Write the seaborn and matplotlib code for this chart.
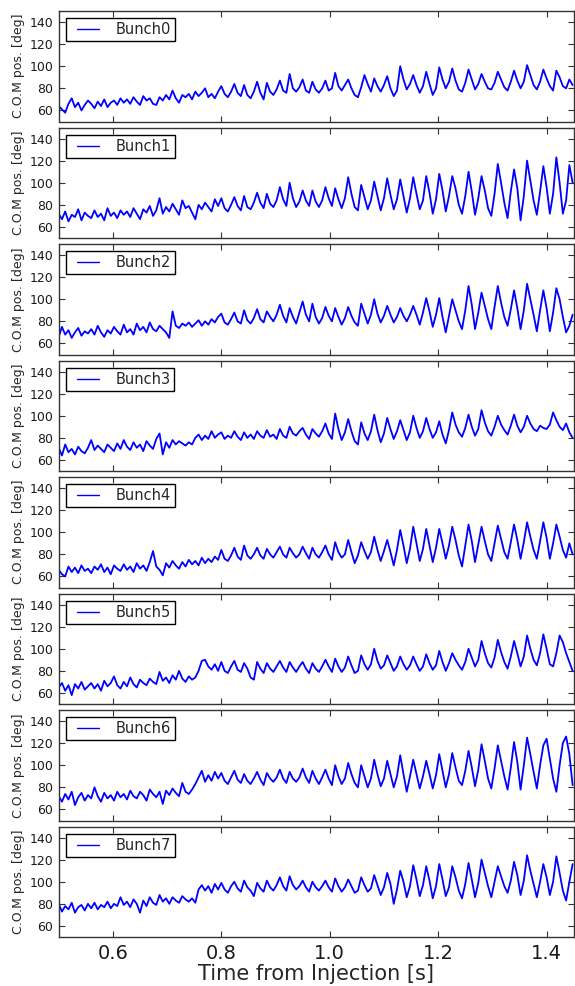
import numpy as np
import pandas as pd
import matplotlib
matplotlib.use("Agg")
import matplotlib.pyplot as plt
from matplotlib.lines import Line2D
from matplotlib.legend_handler import HandlerLine2D
import seaborn as sns

# ---------------- data ----------------
t_start = 0.5      # s, first sample
t_step = 0.006     # s, sample spacing

bunch0 = [64, 61, 58, 66, 71, 63, 67, 60, 65, 69,
          66, 62, 68, 64, 70, 63, 67, 69, 65, 71,
          67, 70, 66, 72, 68, 65, 73, 69, 71, 66,
          65, 72, 69, 74, 70, 78, 71, 67, 74, 72,
          75, 70, 77, 73, 76, 80, 72, 75, 71, 77,
          82, 75, 72, 77, 84, 76, 73, 83, 74, 71,
          77, 86, 76, 70, 85, 77, 74, 79, 87, 78,
          76, 93, 80, 77, 81, 88, 78, 76, 86, 79,
          76, 80, 87, 78, 80, 94, 82, 78, 83, 88,
          80, 74, 72, 81, 92, 84, 77, 89, 82, 77,
          83, 91, 80, 73, 78, 100, 88, 79, 84, 92,
          83, 76, 82, 95, 84, 74, 80, 99, 88, 80,
          86, 98, 87, 79, 77, 85, 97, 88, 79, 84,
          93, 86, 80, 79, 85, 95, 88, 81, 78, 86,
          96, 87, 80, 86, 101, 92, 83, 79, 86, 97,
          89, 82, 78, 96, 90, 82, 80, 88, 83]

bunch1 = [72, 67, 74, 65, 71, 69, 76, 66, 73, 70,
          68, 75, 69, 72, 66, 77, 70, 73, 68, 75,
          71, 74, 69, 77, 72, 67, 76, 73, 79, 70,
          75, 86, 72, 78, 74, 81, 76, 71, 84, 77,
          79, 73, 67, 80, 76, 82, 78, 74, 85, 79,
          86, 77, 74, 80, 87, 79, 75, 88, 78, 76,
          82, 91, 82, 77, 90, 81, 78, 84, 96, 85,
          79, 100, 86, 78, 83, 93, 84, 79, 93, 83,
          78, 84, 96, 86, 79, 95, 85, 77, 86, 105,
          90, 78, 75, 98, 87, 76, 84, 101, 88, 75,
          86, 104, 89, 76, 85, 103, 88, 73, 86, 105,
          90, 76, 84, 106, 91, 72, 85, 108, 93, 74,
          88, 106, 95, 80, 72, 88, 110, 92, 71, 86,
          106, 93, 77, 70, 90, 117, 100, 82, 68, 92,
          112, 95, 66, 88, 120, 102, 84, 71, 92, 115,
          96, 72, 90, 123, 100, 72, 84, 116, 100]

bunch2 = [66, 75, 68, 72, 65, 70, 74, 67, 71, 69,
          73, 68, 76, 70, 66, 72, 69, 75, 71, 68,
          77, 70, 73, 68, 78, 72, 75, 70, 79, 73,
          71, 76, 73, 70, 65, 89, 76, 74, 78, 76,
          79, 75, 78, 81, 76, 80, 77, 82, 79, 84,
          87, 79, 77, 82, 88, 80, 78, 90, 81, 78,
          83, 91, 82, 79, 89, 84, 80, 86, 95, 85,
          79, 92, 84, 78, 88, 98, 86, 80, 96, 84,
          78, 83, 93, 85, 80, 92, 84, 77, 83, 93,
          85, 79, 76, 96, 87, 78, 86, 100, 87, 79,
          85, 94, 86, 79, 84, 92, 85, 80, 86, 94,
          86, 77, 88, 101, 89, 75, 86, 101, 84, 70,
          85, 100, 90, 80, 73, 90, 112, 95, 73, 88,
          106, 94, 82, 73, 93, 112, 97, 84, 76, 91,
          108, 92, 73, 90, 114, 100, 86, 71, 90, 108,
          92, 71, 88, 110, 100, 84, 70, 76, 86]

bunch3 = [71, 64, 74, 67, 70, 65, 72, 68, 66, 71,
          78, 69, 73, 70, 67, 74, 71, 68, 75, 70,
          78, 72, 69, 76, 71, 74, 68, 77, 73, 70,
          79, 84, 65, 76, 71, 78, 74, 77, 75, 73,
          76, 74, 80, 83, 78, 82, 79, 86, 80, 83,
          85, 79, 82, 80, 86, 81, 78, 85, 80, 83,
          79, 86, 82, 80, 87, 81, 83, 79, 88, 82,
          80, 90, 84, 82, 86, 89, 83, 79, 88, 84,
          81, 86, 93, 84, 79, 102, 88, 78, 85, 97,
          86, 77, 74, 94, 84, 78, 86, 101, 87, 76,
          84, 98, 88, 79, 86, 96, 87, 78, 85, 100,
          89, 80, 86, 98, 88, 80, 85, 95, 83, 75,
          87, 103, 92, 85, 81, 89, 101, 90, 82, 88,
          105, 94, 86, 82, 90, 100, 92, 87, 83, 91,
          101, 91, 85, 90, 100, 93, 88, 86, 91, 89,
          88, 92, 103, 96, 90, 87, 93, 85, 80]

bunch4 = [66, 62, 60, 69, 64, 68, 63, 70, 65, 67,
          63, 69, 66, 71, 64, 68, 62, 70, 67, 65,
          71, 66, 69, 64, 72, 67, 70, 65, 73, 83,
          69, 66, 61, 72, 68, 74, 70, 67, 73, 69,
          75, 71, 74, 70, 77, 72, 76, 73, 78, 75,
          84, 76, 74, 79, 86, 78, 75, 88, 79, 76,
          80, 86, 79, 76, 85, 80, 77, 82, 87, 80,
          77, 86, 81, 77, 80, 87, 81, 76, 86, 80,
          77, 82, 88, 80, 75, 91, 82, 77, 80, 93,
          82, 72, 79, 91, 83, 76, 82, 96, 84, 74,
          83, 93, 82, 70, 84, 102, 88, 72, 85, 105,
          90, 74, 85, 103, 88, 73, 86, 103, 90, 76,
          88, 105, 93, 79, 69, 88, 107, 92, 73, 89,
          105, 92, 80, 74, 90, 106, 94, 82, 76, 91,
          107, 93, 76, 91, 109, 96, 84, 76, 92, 109,
          95, 76, 90, 107, 96, 84, 77, 90, 80]

bunch5 = [65, 69, 62, 67, 58, 68, 64, 70, 63, 66,
          69, 64, 68, 62, 71, 66, 69, 75, 67, 64,
          70, 66, 74, 68, 65, 72, 69, 67, 73, 70,
          68, 79, 71, 74, 69, 76, 72, 80, 73, 70,
          75, 72, 74, 80, 89, 90, 84, 81, 86, 80,
          88, 80, 78, 84, 89, 81, 79, 87, 82, 74,
          72, 88, 82, 78, 87, 82, 79, 84, 89, 83,
          79, 88, 83, 79, 84, 88, 82, 78, 87, 82,
          79, 84, 90, 84, 79, 91, 84, 79, 83, 93,
          85, 78, 80, 94, 86, 81, 86, 100, 89, 82,
          85, 94, 87, 80, 84, 93, 86, 81, 85, 93,
          86, 80, 84, 95, 87, 81, 85, 98, 88, 80,
          87, 96, 90, 85, 81, 88, 100, 92, 84, 90,
          107, 96, 87, 83, 92, 108, 97, 88, 82, 93,
          107, 96, 84, 93, 112, 100, 90, 85, 96, 113,
          100, 86, 84, 96, 112, 106, 96, 88, 80]

bunch6 = [72, 67, 74, 69, 76, 64, 71, 75, 68, 73,
          70, 80, 72, 67, 75, 70, 73, 68, 76, 71,
          74, 69, 77, 72, 70, 76, 73, 68, 78, 74,
          71, 76, 65, 77, 73, 79, 75, 72, 84, 76,
          74, 78, 83, 89, 95, 85, 91, 86, 94, 88,
          93, 86, 83, 89, 95, 87, 84, 92, 86, 83,
          88, 94, 87, 82, 93, 88, 85, 89, 96, 88,
          84, 94, 88, 85, 89, 97, 89, 84, 95, 88,
          83, 89, 96, 88, 82, 100, 90, 83, 88, 102,
          92, 84, 80, 100, 90, 80, 88, 105, 92, 81,
          88, 104, 92, 80, 90, 109, 92, 76, 90, 105,
          92, 79, 90, 104, 92, 79, 91, 110, 95, 80,
          92, 111, 98, 86, 82, 95, 113, 98, 81, 96,
          119, 104, 88, 79, 97, 118, 104, 90, 78, 98,
          121, 103, 78, 100, 125, 110, 94, 79, 100, 118,
          124, 106, 88, 76, 100, 120, 126, 110, 82]

bunch7 = [80, 73, 78, 75, 81, 72, 77, 79, 74, 80,
          76, 81, 75, 79, 77, 82, 76, 80, 78, 86,
          79, 82, 77, 84, 80, 72, 83, 78, 86, 81,
          79, 88, 82, 85, 80, 86, 83, 81, 87, 84,
          82, 85, 81, 93, 97, 92, 96, 90, 98, 93,
          99, 93, 90, 96, 100, 94, 91, 101, 95, 92,
          87, 99, 94, 91, 101, 95, 92, 97, 104, 96,
          92, 105, 97, 93, 96, 101, 95, 91, 100, 95,
          92, 96, 101, 95, 91, 103, 96, 91, 95, 102,
          96, 90, 92, 104, 97, 91, 94, 106, 97, 88,
          95, 108, 98, 80, 93, 110, 100, 86, 96, 115,
          102, 87, 97, 114, 101, 85, 96, 116, 102, 87,
          95, 114, 104, 92, 85, 98, 117, 102, 86, 99,
          120, 108, 96, 86, 100, 114, 105, 96, 90, 101,
          118, 106, 88, 101, 124, 110, 98, 86, 100, 116,
          104, 88, 100, 123, 108, 92, 83, 100, 116]

bunch_names = ["Bunch0", "Bunch1", "Bunch2", "Bunch3",
               "Bunch4", "Bunch5", "Bunch6", "Bunch7"]
bunch_values = [bunch0, bunch1, bunch2, bunch3,
                bunch4, bunch5, bunch6, bunch7]

x_ticks = [0.6, 0.8, 1.0, 1.2, 1.4]
y_ticks = [60, 80, 100, 120, 140]
x_range = (0.5, 1.45)
y_range = (50, 150)
x_label = "Time from Injection [s]"
y_label = "C.O.M pos. [deg]"

# ---------------- style ----------------
sns.set_theme(style="ticks")
plt.rcParams["font.family"] = ["DejaVu Sans"]
frame_col = "#333333"
plt.rcParams.update({
    "axes.edgecolor": frame_col,
    "axes.linewidth": 1.0,
    "xtick.direction": "in",
    "ytick.direction": "in",
    "xtick.top": True,
    "ytick.right": True,
    "xtick.color": frame_col,
    "ytick.color": frame_col,
    "xtick.labelcolor": "#1a1a1a",
    "ytick.labelcolor": "#1a1a1a",
})


class ShortLineHandler(HandlerLine2D):
    """Legend line that starts a little to the right, as in the reference."""
    def create_artists(self, legend, orig_handle, xdescent, ydescent,
                       width, height, fontsize, trans):
        arts = super().create_artists(legend, orig_handle, xdescent, ydescent,
                                      width, height, fontsize, trans)
        for a in arts:
            xd = np.asarray(a.get_xdata(), float)
            if xd.size >= 2:
                x0, x1 = xd[0], xd[-1]
                a.set_xdata(np.linspace(x0 + 0.24 * (x1 - x0), x1, xd.size))
                a.set_linewidth(1.0)
        return arts


W, H = 575, 986
fig = plt.figure(figsize=(W / 100, H / 100), dpi=100)
left_px, right_px = 58.7, 573.7
top0, pitch, h_px = 11.0, 116.5, 110.5
n_panels = len(bunch_names)

axes = []
for i, (name, vals) in enumerate(zip(bunch_names, bunch_values)):
    top = top0 + i * pitch
    ax = fig.add_axes([left_px / W, 1 - (top + h_px) / H,
                       (right_px - left_px) / W, h_px / H])
    ax.set_facecolor("white")
    t = t_start + t_step * np.arange(len(vals))
    df = pd.DataFrame({"time": t, "pos": vals})
    sns.lineplot(data=df, x="time", y="pos", ax=ax, color="#0000ff",
                 linewidth=1.3, legend=False)
    line = ax.lines[0]
    line.set_label(name)

    ax.set_xlim(*x_range)
    ax.set_ylim(*y_range)
    ax.set_xticks(x_ticks)
    ax.set_yticks(y_ticks)
    ax.set_xticklabels([f"{v:.1f}" for v in x_ticks])
    last = (i == n_panels - 1)
    ax.tick_params(axis="x", which="major", length=4, width=0.8,
                   labelsize=14, pad=5, labelbottom=last)
    ax.tick_params(axis="y", which="major", length=4, width=0.8,
                   labelsize=9, pad=3.9)
    ax.set_xlabel("")
    ax.set_ylabel(y_label, fontsize=9, labelpad=3.5)
    for sp in ax.spines.values():
        sp.set_visible(True)
        sp.set_color(frame_col)
        sp.set_linewidth(1.0)

    leg = ax.legend(handles=[line], labels=[name], loc="upper left",
                    fontsize=10.5, borderpad=0.28, borderaxespad=0.5,
                    handlelength=2.0, handletextpad=1.1, fancybox=False,
                    framealpha=1.0, edgecolor="black",
                    handler_map={Line2D: ShortLineHandler()})
    leg.get_frame().set_linewidth(1.0)
    axes.append(ax)

axes[-1].set_xlabel(x_label, fontsize=15, labelpad=1)

fig.savefig("out.png", dpi=100)
